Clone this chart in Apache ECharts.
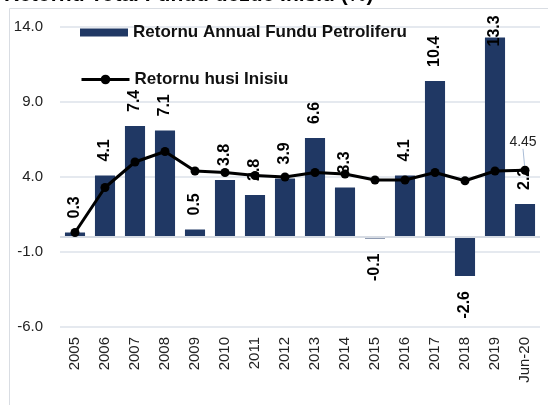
<!DOCTYPE html>
<html>
<head>
<meta charset="utf-8">
<script src="https://cdn.jsdelivr.net/npm/echarts@6/dist/echarts.min.js"></script>
<style>
  html, body { margin: 0; padding: 0; background: #fff; }
  #chart { width: 548px; height: 405px; }
</style>
</head>
<body>
<div id="chart"></div>
<script>
// Retornu Fundu Petroliferu: annual return (bars) vs return since inception (line).
var years = ["2005", "2006", "2007", "2008", "2009", "2010", "2011", "2012",
             "2013", "2014", "2015", "2016", "2017", "2018", "2019", "Jun-20"];
var annualReturn = [0.3, 4.1, 7.4, 7.1, 0.5, 3.8, 2.8, 3.9, 6.6, 3.3, -0.1, 4.1, 10.4, -2.6, 13.3, 2.2];
var sinceInception = [0.3, 3.3, 5.0, 5.7, 4.4, 4.3, 4.1, 4.0, 4.3, 4.2, 3.8, 3.8, 4.3, 3.75, 4.4, 4.45];
var yTicks = { min: -6, max: 14, step: 5 };

var NAVY = "#203864";
var FONT = "'Liberation Sans', Arial, sans-serif";

function barItems() {
  return annualReturn.map(function (v, i) {
    var item = { value: v };
    if (v < 0) {
      item.label = { position: "bottom", align: "right", distance: 15 };
    } else if (i === 14) {
      // top bar: Excel pulls this one down so it stays inside the frame
      item.label = { distance: -9 };
    }
    return item;
  });
}

function lineItems() {
  return sinceInception.map(function (v, i) {
    if (i !== sinceInception.length - 1) return v;
    return { value: v, label: { show: true } };
  });
}

var legendText = { fontSize: 17, fontWeight: "bold", color: "#111", fontFamily: FONT };

var c = echarts.init(document.getElementById("chart"));
c.setOption({
  animation: false,
  textStyle: { fontFamily: FONT },
  graphic: [
    { type: "rect", shape: { x: 9.5, y: 8.5, width: 560, height: 420 },
      style: { fill: null, stroke: "#d9dde3", lineWidth: 1 }, silent: true },
    { type: "text", left: 4, top: -15,
      style: { text: "Retornu Total Fundu dezde Inisiu (%)", fill: "#000",
        font: "bold 21px " + FONT } }
  ],
  grid: { left: 60, right: 8, top: 27, bottom: 78 },
  legend: [
    { left: 75, top: 19, itemWidth: 48, itemHeight: 8, textStyle: legendText,
      data: [{ name: "Retornu Annual Fundu Petroliferu", icon: "rect" }] },
    { left: 75, top: 66, itemWidth: 48, itemHeight: 12, textStyle: legendText,
      lineStyle: { width: 3, color: "#000" },
      data: [{ name: "Retornu husi Inisiu" }] }
  ],
  xAxis: {
    type: "category", data: years,
    axisLine: { show: false }, axisTick: { show: false },
    axisLabel: { rotate: 90, fontSize: 15, color: "#222", margin: 10 }
  },
  yAxis: {
    type: "value", min: yTicks.min, max: yTicks.max, interval: yTicks.step,
    axisLine: { show: false }, axisTick: { show: false },
    axisLabel: { fontSize: 15, color: "#222", margin: 17,
      formatter: function (v) { return v.toFixed(1); } },
    splitLine: { lineStyle: { color: "#dde2ea", width: 1.5 } }
  },
  series: [
    {
      name: "Retornu Annual Fundu Petroliferu", type: "bar",
      data: barItems(), barCategoryGap: "33%",
      itemStyle: { color: NAVY },
      label: {
        show: true, position: "top", rotate: 90, align: "left", verticalAlign: "middle",
        distance: 14, fontSize: 16, fontWeight: "bold", color: "#000",
        formatter: function (p) { return p.value.toFixed(1); }
      },
      markLine: {
        silent: true, symbol: "none", label: { show: false },
        lineStyle: { color: "#d6dbe3", width: 2, type: "solid" },
        data: [{ yAxis: 0 }]
      }
    },
    {
      name: "Retornu husi Inisiu", type: "line",
      data: lineItems(), z: 5,
      symbol: "circle", symbolSize: 9,
      lineStyle: { color: "#000", width: 3 },
      itemStyle: { color: "#000" },
      label: { show: false, position: "top", fontSize: 14, color: "#222",
        formatter: function (p) { return String(p.value); } },
      labelLine: { show: true, lineStyle: { color: "#a9bcd6", width: 1 } },
      labelLayout: function (p) {
        if (p.dataIndex === sinceInception.length - 1) return { dy: -12, dx: -2 };
      }
    }
  ]
});
</script>
</body>
</html>
